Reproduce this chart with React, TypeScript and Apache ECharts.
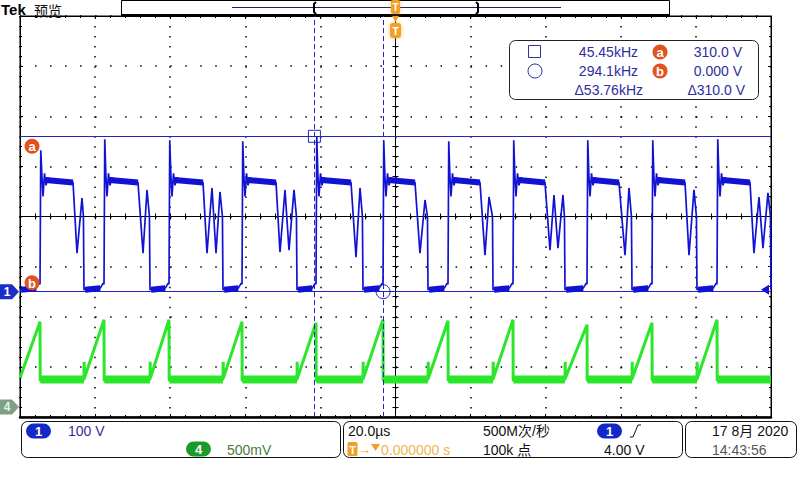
import React, { useEffect, useRef } from "react";
import * as echarts from "echarts";

// ---------- data ----------
// time axis: 20 µs/div, 10 divisions, trigger at centre
const T_MIN = -100;
const T_MAX = 100;
// CH1: 100 V/div, ground 1.5 div below centre
const CH1_MIN = -250;
const CH1_MAX = 550;
// CH4: 500 mV/div, ground 3.8 div below centre
const CH4_MIN = -0.1;
const CH4_MAX = 3.9;

// CH1 (drain voltage) per switching cycle, µs / V
const CH1_RISE = [-94.67, -77.63, -60.32, -40.88, -21.17, -3.33, 13.98, 31.29, 51.0, 68.31, 85.62];
const CH1_PEAK = [282, 304, 302, 300, 310, 302, 300, 302, 302, 302, 304];
const CH1_PLATEAU_END = [-85.88, -68.58, -51.26, -31.82, -11.85, 5.19, 22.5, 39.81, 59.52, 77.1, 94.41];
const CH1_RING: number[][][] = [
  [[-84.82, 77], [-83.49, 187]],
  [[-67.24, 77], [-66.18, 203]],
  [[-50.2, 77], [-48.87, 207], [-47.8, 77], [-46.74, 199]],
  [[-30.76, 79], [-29.43, 203], [-28.36, 83], [-27.03, 203]],
  [[-10.52, 69], [-9.45, 207]],
  [[6.52, 77], [7.86, 183]],
  [[23.83, 73], [24.9, 189]],
  [[41.14, 83], [42.21, 193], [43.27, 87], [44.6, 193]],
  [[61.12, 73], [62.18, 207]],
  [[78.16, 73], [79.49, 203]],
  [[95.46, 77], [96.8, 189], [97.86, 87], [99.19, 197]],
];
const CH1_DROP = [-82.96, -65.38, -45.94, -26.23, -8.66, 8.66, 25.97, 45.14, 62.98, 80.29, 100];
// ringing right after each turn-off edge: [µs after edge, V]
const CH1_SPIKE_TAIL = [[0.5, 232], [0.8, 190], [1.2, 236], [1.6, 212], [2.1, 228], [2.8, 221]];
const CH1_PLATEAU_START_V = 223;
const CH1_PLATEAU_END_V = 218;
const CH1_LOW_V = 4;
const CH1_PRE_EDGE_V = 17;

// CH4 (current sense) ramp peaks at each CH1 edge, V
const CH4_PEAK = [0.85, 0.87, 0.87, 0.85, 0.84, 0.87, 0.86, 0.87, 0.82, 0.84, 0.87];
const CH4_BASE = 0.275;
const CH4_RAMP_START = 0.29;
const CH4_START_SPIKE = 0.45;

// cursors
const CURSOR_V = [310, 0];
const CURSOR_T = [-21.6, -3.3];
const CURSOR_LABEL_T = -96.8;
const TRIGGER_LEVEL = 4.0;

// readouts
const TITLE = "Tek";
const MODE = "预览";
const MEAS_FREQ = ["45.45kHz", "294.1kHz", "Δ53.76kHz"];
const MEAS_VOLT = ["310.0 V", "0.000 V", "Δ310.0 V"];
const CH1_SCALE = "100 V";
const CH4_SCALE = "500mV";
const TIMEBASE = "20.0µs";
const TRIG_POS = "0.000000 s";
const SAMPLE_RATE = "500M次/秒";
const RECORD_LEN = "100k 点";
const TRIG_LEVEL_TXT = "4.00 V";
const DATE_TXT = "17 8月 2020";
const TIME_TXT = "14:43:56";

// ---------- styles ----------
const FONT = '"Liberation Sans", "DejaVu Sans", "Noto Sans CJK SC", sans-serif';
const CJK = '"Noto Sans CJK SC", "Liberation Sans", sans-serif';
const BLUE = "#1212d4";
const CUR = "#2424c0";
const GREEN = "#2ce62c";
const ORANGE = "#f0a028";
const MARK_RED = "#e2521f";
const MEAS_TXT = "#2e2ea0";
const GRID = { left: 20, top: 16, width: 751, height: 401 };

const tPix = (t: number) => GRID.left + ((t - T_MIN) / (T_MAX - T_MIN)) * GRID.width;
const vPix = (v: number, min: number, max: number) =>
  GRID.top + ((max - v) / (max - min)) * GRID.height;

function buildCh1() {
  const pts: any[] = [[T_MIN, CH1_LOW_V]];
  const band: any[] = [];
  let prevDrop = T_MIN;
  CH1_RISE.forEach((r, i) => {
    band.push([prevDrop + 0.3, CH1_LOW_V], [r - 1.0, CH1_LOW_V + 3], [r, "-"]);
    pts.push([r - 1.0, CH1_LOW_V + 3], [r - 0.2, CH1_PRE_EDGE_V], [r, CH1_PRE_EDGE_V - 2], [r + 0.2, CH1_PEAK[i]]);
    CH1_SPIKE_TAIL.forEach(([dt, v]) => pts.push([r + dt, v]));
    pts.push([CH1_PLATEAU_END[i], CH1_PLATEAU_END_V]);
    band.push([r + 1.5, CH1_PLATEAU_START_V], [CH1_PLATEAU_END[i], CH1_PLATEAU_END_V], [CH1_PLATEAU_END[i] + 0.1, "-"]);
    CH1_RING[i].forEach((p) => pts.push([p[0], p[1]]));
    const d = CH1_DROP[i];
    pts.push([d - 0.15, 150], [d, CH1_LOW_V]);
    prevDrop = d;
  });
  return { pts, band };
}

function buildCh4() {
  const pts: any[] = [[T_MIN, CH4_RAMP_START]];
  const band: any[] = [];
  CH1_RISE.forEach((r, i) => {
    pts.push([r, CH4_PEAK[i]], [r + 0.05, CH4_BASE - 0.01]);
    const d = CH1_DROP[i];
    const end = Math.min(d, T_MAX);
    band.push([r + 0.1, CH4_BASE], [end, CH4_BASE], [end, "-"]);
    if (d < T_MAX) {
      pts.push([d, CH4_BASE], [d + 0.05, CH4_START_SPIKE], [d + 0.12, CH4_RAMP_START]);
    } else {
      pts.push([T_MAX, CH4_BASE]);
    }
  });
  return { pts, band };
}

function txt(x: number, y: number, text: string, o: any = {}) {
  return {
    type: "text",
    x,
    y,
    z: 200,
    silent: true,
    style: {
      text,
      font: o.font || `14px ${FONT}`,
      fill: o.fill || "#111",
      align: o.align || "left",
      verticalAlign: o.valign || "middle",
    },
  };
}

function pill(x: number, y: number, label: string, color: string) {
  return [
    { type: "rect", z: 200, shape: { x, y, width: 25, height: 15, r: 7.5 }, style: { fill: color } },
    txt(x + 12.5, y + 8, label, { font: `bold 13px ${FONT}`, fill: "#fff", align: "center" }),
  ];
}

function badge(cx: number, cy: number, l: string) {
  return [
    { type: "circle", z: 200, shape: { cx, cy, r: 7.5 }, style: { fill: MARK_RED } },
    txt(cx, cy + 0.5, l, { font: `bold 13px ${FONT}`, fill: "#fff", align: "center" }),
  ];
}

function buildGraphics() {
  const g: any[] = [];
  // title
  g.push(txt(1, 2, TITLE, { font: `bold 15px ${FONT}`, fill: "#000", valign: "top" }));
  g.push(txt(34, 2.5, MODE, { font: `14px ${CJK}`, fill: "#111", valign: "top" }));
  // record bar
  g.push({ type: "rect", z: 150, shape: { x: 121.5, y: 0.5, width: 548, height: 14 }, style: { fill: "#fff", stroke: "#000", lineWidth: 1 } });
  g.push({ type: "line", z: 151, shape: { x1: 121, y1: 15, x2: 670, y2: 15 }, style: { stroke: "#000", lineWidth: 2 } });
  g.push({ type: "line", z: 151, shape: { x1: 232, y1: 7.5, x2: 561, y2: 7.5 }, style: { stroke: "#1c1c78", lineWidth: 1 } });
  g.push({ type: "polyline", z: 152, shape: { points: [[316, 2], [314, 4], [314, 12], [316, 14]] }, style: { stroke: "#000", lineWidth: 2, fill: null } });
  g.push({ type: "polyline", z: 152, shape: { points: [[476, 2], [478, 4], [478, 12], [476, 14]] }, style: { stroke: "#000", lineWidth: 2, fill: null } });
  // trigger markers
  const tx = tPix(0);
  g.push({ type: "rect", z: 160, shape: { x: tx - 4.5, y: 0, width: 9, height: 14, r: 2 }, style: { fill: ORANGE, shadowBlur: 4, shadowColor: "rgba(240,160,40,0.6)" } });
  g.push(txt(tx, 7.5, "T", { font: `bold 10px ${FONT}`, fill: "#fff", align: "center" }));
  g.push({ type: "polygon", z: 160, shape: { points: [[tx - 3.5, 16], [tx + 3.5, 16], [tx, 22]] }, style: { fill: ORANGE } });
  g.push({ type: "rect", z: 160, shape: { x: tx - 5.5, y: 23, width: 11, height: 15, r: 3 }, style: { fill: ORANGE, shadowBlur: 4, shadowColor: "rgba(240,160,40,0.6)" } });
  g.push(txt(tx, 31, "T", { font: `bold 11px ${FONT}`, fill: "#fff", align: "center" }));
  // ground markers
  const y1 = vPix(0, CH1_MIN, CH1_MAX);
  g.push({ type: "polygon", z: 160, shape: { points: [[0, y1 - 7.5], [12, y1 - 7.5], [19, y1], [12, y1 + 7.5], [0, y1 + 7.5]] }, style: { fill: "#1a2fc8" } });
  g.push(txt(7, y1 + 0.5, "1", { font: `bold 12px ${FONT}`, fill: "#fff", align: "center" }));
  const y4 = vPix(0, CH4_MIN, CH4_MAX);
  g.push({ type: "polygon", z: 160, shape: { points: [[0, y4 - 7.5], [12, y4 - 7.5], [19, y4], [12, y4 + 7.5], [0, y4 + 7.5]] }, style: { fill: "#7f9f86" } });
  g.push(txt(7, y4 + 0.5, "4", { font: `bold 12px ${FONT}`, fill: "#e8f0e8", align: "center" }));
  // cursor labels a / b
  const lx = tPix(CURSOR_LABEL_T);
  g.push(...badge(lx, vPix(CURSOR_V[0], CH1_MIN, CH1_MAX) + 10, "a"));
  g.push(...badge(lx, vPix(CURSOR_V[1], CH1_MIN, CH1_MAX) - 9, "b"));
  // trigger level arrow
  const yt = vPix(TRIGGER_LEVEL, CH1_MIN, CH1_MAX);
  g.push({ type: "polygon", z: 160, shape: { points: [[761, yt], [769, yt - 5], [769, yt + 5]] }, style: { fill: BLUE } });
  // measurement box
  g.push({ type: "rect", z: 180, shape: { x: 509.5, y: 40.5, width: 249, height: 59, r: 6 }, style: { fill: "#fff", stroke: "#222", lineWidth: 1 } });
  g.push({ type: "rect", z: 200, shape: { x: 528.5, y: 45.5, width: 12, height: 12 }, style: { fill: null, stroke: MEAS_TXT, lineWidth: 1 } });
  g.push({ type: "circle", z: 200, shape: { cx: 535, cy: 71, r: 7 }, style: { fill: null, stroke: MEAS_TXT, lineWidth: 1 } });
  const rowsY = [52, 71, 90];
  g.push(txt(638, rowsY[0], MEAS_FREQ[0], { fill: MEAS_TXT, align: "right" }));
  g.push(txt(638, rowsY[1], MEAS_FREQ[1], { fill: MEAS_TXT, align: "right" }));
  g.push(txt(643, rowsY[2], MEAS_FREQ[2], { fill: MEAS_TXT, align: "right" }));
  g.push(txt(742, rowsY[0], MEAS_VOLT[0], { fill: MEAS_TXT, align: "right" }));
  g.push(txt(742, rowsY[1], MEAS_VOLT[1], { fill: MEAS_TXT, align: "right" }));
  g.push(txt(745, rowsY[2], MEAS_VOLT[2], { fill: MEAS_TXT, align: "right" }));
  g.push(...badge(660, rowsY[0], "a"));
  g.push(...badge(660, rowsY[1], "b"));
  // status boxes
  g.push({ type: "rect", z: 180, shape: { x: 21.5, y: 421.5, width: 319, height: 36, r: 6 }, style: { fill: "#fff", stroke: "#111", lineWidth: 1 } });
  g.push({ type: "rect", z: 180, shape: { x: 343.5, y: 421.5, width: 339, height: 36, r: 6 }, style: { fill: "#fff", stroke: "#111", lineWidth: 1 } });
  g.push({ type: "rect", z: 180, shape: { x: 685.5, y: 421.5, width: 111, height: 36, r: 6 }, style: { fill: "#fff", stroke: "#111", lineWidth: 1 } });
  g.push(...pill(26, 423.5, "1", "#1428c8"));
  g.push(txt(68, 431, CH1_SCALE, { fill: "#3a2a9a" }));
  g.push(...pill(186, 441.5, "4", "#1a9a2a"));
  g.push(txt(227, 449.5, CH4_SCALE, { fill: "#4a7a40" }));
  g.push(txt(348, 431, TIMEBASE, { fill: "#111" }));
  g.push({ type: "rect", z: 200, shape: { x: 347.5, y: 442, width: 10, height: 14, r: 1.5 }, style: { fill: ORANGE } });
  g.push(txt(352.5, 449.5, "T", { font: `bold 11px ${FONT}`, fill: "#fff", align: "center" }));
  g.push(txt(358, 449, "→", { font: `13px ${FONT}`, fill: ORANGE }));
  g.push({ type: "polygon", z: 200, shape: { points: [[371, 444], [380, 444], [375.5, 451]] }, style: { fill: ORANGE } });
  g.push(txt(381, 449.5, TRIG_POS, { fill: "#f2b450" }));
  g.push(txt(483, 431, SAMPLE_RATE, { font: `14px ${FONT}`, fill: "#111" }));
  g.push(txt(483, 449.5, RECORD_LEN, { font: `14px ${FONT}`, fill: "#111" }));
  g.push(...pill(597, 423.5, "1", "#1428c8"));
  g.push({ type: "polyline", z: 200, shape: { points: [[630, 437], [633, 437], [638, 425], [641, 425]] }, style: { stroke: "#111", lineWidth: 1, fill: null } });
  g.push(txt(604, 449.5, TRIG_LEVEL_TXT, { fill: "#111" }));
  g.push(txt(712, 431, DATE_TXT, { font: `14px ${FONT}`, fill: "#111" }));
  g.push(txt(712, 449.5, TIME_TXT, { fill: "#555" }));
  return g;
}

function buildOption() {
  const ch1 = buildCh1();
  const ch4 = buildCh4();
  const black = { color: "#000", width: 1 };
  const noLabel = { show: false };
  const dot = "#000";
  const centreX = (position: string, split: boolean) => ({
    type: "value",
    min: T_MIN,
    max: T_MAX,
    interval: 20,
    position,
    axisLine: { show: true, onZero: true, onZeroAxisIndex: 0, lineStyle: black },
    axisTick: { show: true, inside: true, length: 3, lineStyle: black },
    minorTick: { show: true, splitNumber: 5, length: 3, lineStyle: black },
    axisLabel: noLabel,
    splitLine: split ? { show: true, lineStyle: { color: dot, width: 1.5, type: [1.5, 8.525] } } : { show: false },
  });
  const borderX = (position: string, w: number) => ({
    type: "value",
    min: T_MIN,
    max: T_MAX,
    interval: 20,
    position,
    axisLine: { show: true, onZero: false, lineStyle: { color: "#000", width: w } },
    axisTick: { show: true, inside: true, length: 3, lineStyle: black },
    minorTick: { show: true, splitNumber: 5, length: 2, lineStyle: black },
    axisLabel: noLabel,
    splitLine: { show: false },
  });
  const centreY = (position: string, split: boolean) => ({
    type: "value",
    min: -4,
    max: 4,
    interval: 1,
    position,
    axisLine: { show: true, onZero: true, onZeroAxisIndex: 0, lineStyle: black },
    axisTick: { show: true, inside: true, length: 3, lineStyle: black },
    minorTick: { show: true, splitNumber: 5, length: 3, lineStyle: black },
    axisLabel: noLabel,
    splitLine: split ? { show: true, lineStyle: { color: dot, width: 1.5, type: [1.5, 13.52] } } : { show: false },
  });
  const borderY = (position: string) => ({
    type: "value",
    min: -4,
    max: 4,
    interval: 1,
    position,
    axisLine: { show: true, onZero: false, lineStyle: black },
    axisTick: { show: true, inside: true, length: 3, lineStyle: black },
    minorTick: { show: true, splitNumber: 5, length: 2, lineStyle: black },
    axisLabel: noLabel,
    splitLine: { show: false },
  });

  return {
    animation: false,
    backgroundColor: "#fff",
    grid: { ...GRID, show: true, borderColor: "#000", borderWidth: 1, backgroundColor: "#fff" },
    xAxis: [centreX("bottom", true), centreX("top", false), borderX("bottom", 2.5), borderX("top", 1)],
    yAxis: [
      centreY("left", true),
      centreY("right", false),
      borderY("left"),
      borderY("right"),
      { type: "value", min: CH1_MIN, max: CH1_MAX, show: false },
      { type: "value", min: CH4_MIN, max: CH4_MAX, show: false },
    ],
    series: [
      {
        type: "line",
        xAxisIndex: 0,
        yAxisIndex: 5,
        data: ch4.band,
        symbol: "none",
        silent: true,
        connectNulls: false,
        lineStyle: { color: GREEN, width: 8 },
        z: 3,
      },
      {
        type: "line",
        xAxisIndex: 0,
        yAxisIndex: 5,
        data: ch4.pts,
        symbol: "none",
        silent: true,
        lineStyle: { color: GREEN, width: 3 },
        z: 4,
      },
      {
        type: "line",
        xAxisIndex: 0,
        yAxisIndex: 4,
        data: ch1.band,
        symbol: "none",
        silent: true,
        connectNulls: false,
        lineStyle: { color: BLUE, width: 6 },
        z: 5,
      },
      {
        type: "line",
        xAxisIndex: 0,
        yAxisIndex: 4,
        data: ch1.pts,
        symbol: "none",
        silent: true,
        lineStyle: { color: BLUE, width: 1.7 },
        z: 6,
        markLine: {
          silent: true,
          symbol: ["none", "none"],
          label: { show: false },
          animation: false,
          data: [
            { yAxis: CURSOR_V[0], lineStyle: { color: CUR, width: 1, type: "solid" } },
            { yAxis: CURSOR_V[1], lineStyle: { color: CUR, width: 1, type: "solid" } },
            { xAxis: CURSOR_T[0], lineStyle: { color: CUR, width: 1, type: [5, 3] } },
            { xAxis: CURSOR_T[1], lineStyle: { color: CUR, width: 1, type: [5, 3] } },
          ],
        },
        markPoint: {
          silent: true,
          animation: false,
          data: [
            {
              coord: [CURSOR_T[0], CURSOR_V[0]],
              symbol: "rect",
              symbolSize: 12,
              itemStyle: { color: "rgba(255,255,255,0)", borderColor: CUR, borderWidth: 1 },
              label: { show: false },
            },
            {
              coord: [CURSOR_T[1], CURSOR_V[1]],
              symbol: "circle",
              symbolSize: 14,
              itemStyle: { color: "rgba(255,255,255,0)", borderColor: CUR, borderWidth: 1 },
              label: { show: false },
            },
          ],
        },
      },
    ],
    graphic: { elements: buildGraphics() },
  };
}

export default function App() {
  const ref = useRef<HTMLDivElement>(null);
  useEffect(() => {
    if (!ref.current) return;
    const chart = echarts.init(ref.current, null, { renderer: "svg" });
    chart.setOption(buildOption() as any);
    return () => chart.dispose();
  }, []);
  return (
    <div
      ref={ref}
      style={{ position: "fixed", left: 0, top: 0, width: 800, height: 480, background: "#fff" }}
    />
  );
}
